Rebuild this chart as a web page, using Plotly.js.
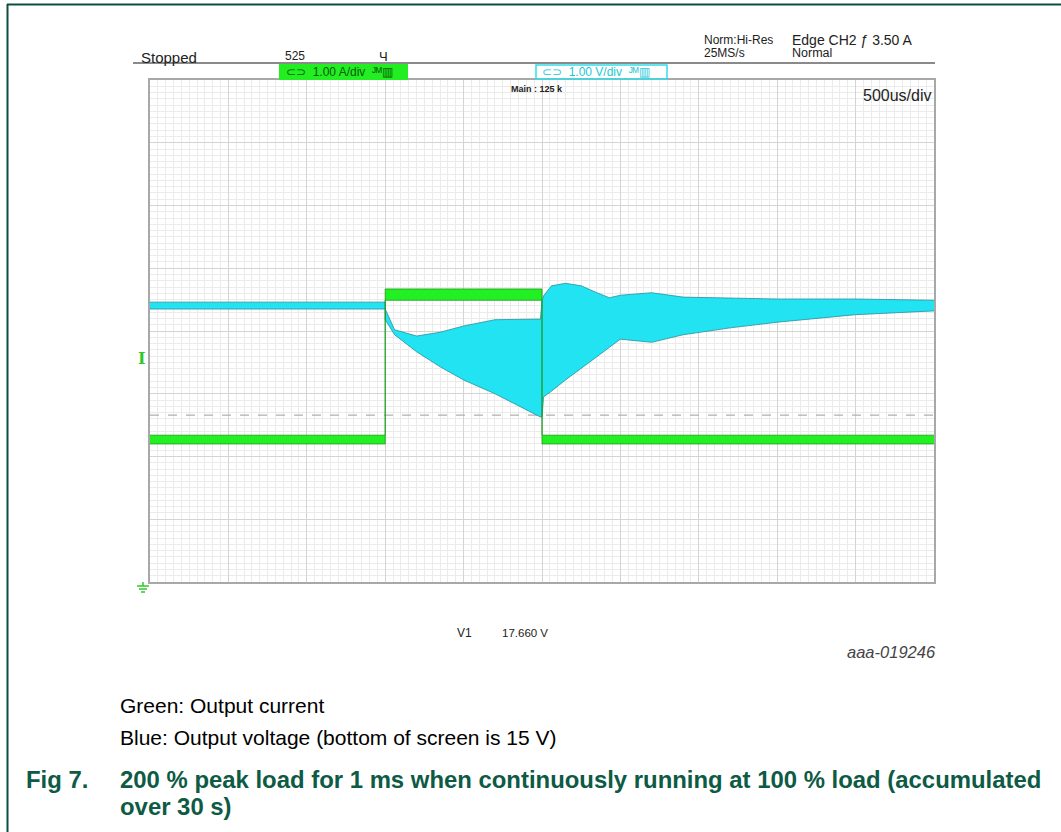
<!DOCTYPE html>
<html><head><meta charset="utf-8">
<script src="https://cdn.plot.ly/plotly-3.0.1.min.js"></script>
<style>html,body{margin:0;padding:0;background:#fff;overflow:hidden}#chart{width:1061px;height:832px}</style>
</head><body><div id="chart"></div>
<script>
// ---- data (time in ms, 500 us/div; voltage in V, 1 V/div, bottom = 15 V; current in A, 1 A/div) ----
const timeV = [0, 1.5, 1.5, 1.56, 1.7, 1.85, 2.0, 2.2, 2.49, 2.5, 2.51, 2.56, 2.65, 2.75, 2.85, 2.93, 3.0, 3.2, 3.4, 3.7, 4.0, 4.5, 5.0];
const voltUpper = [19.46, 19.46, 19.35, 19.02, 18.92, 18.98, 19.08, 19.18, 19.19, 19.49, 19.56, 19.72, 19.76, 19.72, 19.61, 19.53, 19.57, 19.61, 19.54, 19.53, 19.51, 19.51, 19.49];
const voltLower = [19.35, 19.35, 19.18, 18.94, 18.67, 18.43, 18.22, 18.00, 17.63, 17.63, 17.95, 18.04, 18.22, 18.40, 18.59, 18.74, 18.87, 18.82, 18.94, 19.05, 19.14, 19.26, 19.32];
const timeI = [0, 1.5, 1.5, 2.5, 2.5, 5.0];
const currUpper = [2.34, 2.34, 4.67, 4.67, 2.34, 2.34];
const currLower = [2.20, 2.20, 4.49, 4.49, 2.20, 2.20];
const cursorV1 = 17.66;
const timeRange = [0, 5];
const voltRange = [15, 23];
const currRange = [0, 8];

// ---- helpers for pixel placement of decorations ----
const L = 150, T = 80, W = 784, H = 502;
const PX = x => (x - L) / W;
const PY = y => (T + H - y) / H;

const blue = '#22E3F2', blueEdge = '#2a8f9c';
const green = '#22F022', greenEdge = '#1a9a1a';

const traces = [
  {x: [timeRange[0], timeRange[1]], y: [cursorV1, cursorV1], mode: 'lines', line: {color: '#b0b0b0', width: 1.2, dash: 'dash'}, hoverinfo: 'skip', showlegend: false},
  {x: timeV, y: voltLower, mode: 'lines', line: {color: blueEdge, width: 0.8}, showlegend: false, hoverinfo: 'skip'},
  {x: timeV, y: voltUpper, mode: 'lines', fill: 'tonexty', fillcolor: blue, line: {color: blueEdge, width: 0.8}, showlegend: false, hoverinfo: 'skip'},
  {x: timeI, y: currLower, yaxis: 'y2', mode: 'lines', line: {color: greenEdge, width: 0.8}, showlegend: false, hoverinfo: 'skip'},
  {x: timeI, y: currUpper, yaxis: 'y2', mode: 'lines', fill: 'tonexty', fillcolor: green, line: {color: greenEdge, width: 0.8}, showlegend: false, hoverinfo: 'skip'}
];

const scopeFont = 'Liberation Sans, Arial, sans-serif';
const capFont = 'Liberation Sans, Arial, sans-serif';
const darkGreen = '#0D5A45';

function txt(text, x, y, size, opts) {
  return Object.assign({text: text, xref: 'paper', yref: 'paper', x: PX(x), y: PY(y), xanchor: 'left', yanchor: 'middle', showarrow: false,
    font: {family: scopeFont, size: size, color: '#222'}}, opts || {});
}

const annotations = [
  txt('Stopped', 139, 57, 15),
  txt('525', 283, 56, 12),
  txt('Ч', 377, 56, 13),
  txt('Norm:Hi-Res', 702, 40, 12),
  txt('25MS/s', 702, 53, 12),
  txt('Edge CH2 ƒ 3.50 A', 790, 40, 14),
  txt('Normal', 790, 53, 12.5),
  txt('⊂⊃  1.00 A/div  ᴶᴹ▥', 284, 72, 12, {font: {family: scopeFont, size: 12, color: '#0a5a0a'}}),
  txt('⊂⊃  1.00 V/div  ᴶᴹ▥', 540, 72, 12, {font: {family: scopeFont, size: 12, color: '#22c8d8'}}),
  txt('<b>Main : 125 k</b>', 509, 89, 9),
  txt('500us/div', 861, 96, 16),
  txt('<b>I</b>', 136, 358, 16, {font: {family: 'DejaVu Serif, serif', size: 16, color: '#2ec82e'}}),
  txt('V1', 455, 633, 12),
  txt('17.660 V', 500, 633, 11.5),
  txt('<i>aaa-019246</i>', 938, 652, 16.5, {xanchor: 'right', font: {family: capFont, size: 16.5, color: '#444'}}),
  txt('Green: Output current', 118, 705, 21, {font: {family: capFont, size: 21, color: '#000'}}),
  txt('Blue: Output voltage (bottom of screen is 15 V)', 118, 737, 21, {font: {family: capFont, size: 21, color: '#000'}}),
  txt('<b>Fig 7.</b>', 24, 779, 23.9, {font: {family: capFont, size: 23.9, color: darkGreen}}),
  txt('<b>200 % peak load for 1 ms when continuously running at 100 % load (accumulated</b>', 118, 779, 23.9, {font: {family: capFont, size: 23.9, color: darkGreen}}),
  txt('<b>over 30 s)</b>', 118, 806, 23.9, {font: {family: capFont, size: 23.9, color: darkGreen}})
];

const shapes = [
  // document frame
  {type: 'line', xref: 'paper', yref: 'paper', x0: PX(7), x1: PX(1061), y0: PY(4.5), y1: PY(4.5), line: {color: '#0D4F3F', width: 2}},
  {type: 'line', xref: 'paper', yref: 'paper', x0: PX(7.5), x1: PX(7.5), y0: PY(4), y1: PY(832), line: {color: '#0D4F3F', width: 2}},
  // header rule
  {type: 'line', xref: 'paper', yref: 'paper', x0: PX(133), x1: PX(935), y0: PY(63), y1: PY(63), line: {color: '#8a8a8a', width: 2}},
  // channel boxes
  {type: 'rect', xref: 'paper', yref: 'paper', x0: PX(279), x1: PX(408), y0: PY(64), y1: PY(80), fillcolor: '#22ee22', line: {width: 0}},
  {type: 'rect', xref: 'paper', yref: 'paper', x0: PX(536), x1: PX(667), y0: PY(65), y1: PY(79), fillcolor: 'rgba(0,0,0,0)', line: {color: '#33dde8', width: 1.5}},
  // ground marker
  {type: 'line', xref: 'paper', yref: 'paper', x0: PX(143), x1: PX(143), y0: PY(582), y1: PY(586), line: {color: '#2ec82e', width: 1.5}},
  {type: 'line', xref: 'paper', yref: 'paper', x0: PX(137), x1: PX(149), y0: PY(586), y1: PY(586), line: {color: '#2ec82e', width: 1.5}},
  {type: 'line', xref: 'paper', yref: 'paper', x0: PX(139), x1: PX(147), y0: PY(589), y1: PY(589), line: {color: '#2ec82e', width: 1.5}},
  {type: 'line', xref: 'paper', yref: 'paper', x0: PX(141), x1: PX(145), y0: PY(592), y1: PY(592), line: {color: '#2ec82e', width: 1.5}}
];

const gridAxis = (range, dtick, minor) => ({
  range: range, dtick: dtick, tick0: range[0], showticklabels: false, ticks: '', zeroline: false,
  showgrid: true, gridcolor: '#d4d4d4', gridwidth: 1,
  minor: {dtick: minor, tick0: range[0], showgrid: true, gridcolor: '#ebebeb', gridwidth: 1},
  showline: true, mirror: true, linecolor: '#a8a8a8', linewidth: 2, fixedrange: true
});

const layout = {
  width: 1061, height: 832,
  margin: {l: L, r: 1061 - L - W, t: T, b: 832 - T - H, pad: 0},
  paper_bgcolor: '#fff', plot_bgcolor: '#fff',
  showlegend: false,
  xaxis: gridAxis(timeRange, 0.5, 0.05),
  yaxis: gridAxis(voltRange, 1, 0.1),
  yaxis2: {range: currRange, overlaying: 'y', showgrid: false, showticklabels: false, zeroline: false, ticks: '', showline: false, fixedrange: true},
  annotations: annotations,
  shapes: shapes
};

Plotly.newPlot('chart', traces, layout, {staticPlot: true, displayModeBar: false});
</script>
</body></html>
